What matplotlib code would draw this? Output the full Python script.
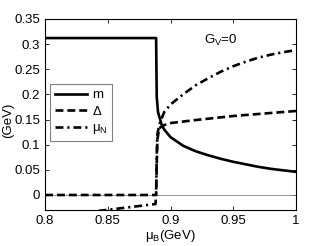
import numpy as np
import matplotlib.pyplot as plt
from matplotlib.ticker import FuncFormatter

plt.rcParams['font.family'] = ['Liberation Sans', 'DejaVu Sans']
plt.rcParams['mathtext.fontset'] = 'custom'
plt.rcParams['mathtext.rm'] = 'Liberation Sans'
plt.rcParams['mathtext.it'] = 'Liberation Sans'

# values
mu_m = [0.8, 0.8885, 0.889, 0.89, 0.893, 0.895, 0.9, 0.91, 0.92, 0.93, 0.94,
        0.95, 0.96, 0.97, 0.98, 0.99, 1.0]
m = [0.312, 0.312, 0.195, 0.165, 0.139, 0.13, 0.115, 0.098, 0.087, 0.079, 0.072,
     0.066, 0.061, 0.056, 0.052, 0.049, 0.046]

mu_d = [0.8, 0.8885, 0.889, 0.8895, 0.891, 0.895, 0.9, 0.92, 0.95, 0.98, 1.0]
delta = [0.0, 0.0, 0.06, 0.11, 0.133, 0.139, 0.143, 0.149, 0.157, 0.163, 0.167]

mu_n = [0.8, 0.848, 0.888, 0.8885, 0.889, 0.8895, 0.891, 0.895, 0.9, 0.91, 0.92,
        0.93, 0.94, 0.95, 0.96, 0.97, 0.98, 0.99, 1.0]
muN = [-0.044, -0.03, -0.018, 0.0, 0.08, 0.12, 0.14, 0.165, 0.18, 0.2, 0.218,
       0.232, 0.245, 0.256, 0.265, 0.273, 0.279, 0.284, 0.288]

fig = plt.figure(figsize=(3.27, 2.46), dpi=100)
ax = fig.add_axes([0.138, 0.146, 0.767, 0.777])

ax.axhline(0, color='gray', lw=0.6)
ax.plot(mu_m, m, 'k-', lw=1.9, label='m')
ax.plot(mu_d, delta, 'k--', lw=1.9, dashes=(3, 1.5), label=r'$\Delta$')
ax.plot(mu_n, muN, 'k-.', lw=1.9, dashes=(3, 1.5, 0.8, 1.5), label=r'$\mu_N$')

ax.set_xlim(0.8, 1.0)
ax.set_ylim(-0.03, 0.35)
ax.set_xticks(np.arange(0.8, 1.001, 0.05))
ax.set_yticks(np.arange(0, 0.351, 0.05))
fmt = FuncFormatter(lambda v, p: '%g' % round(v, 3))
ax.xaxis.set_major_formatter(fmt)
ax.yaxis.set_major_formatter(fmt)
ax.tick_params(direction='in', top=True, right=True, labelsize=9.5, length=3, width=0.6)
for s in ax.spines.values():
    s.set_linewidth(0.8)

ax.set_xlabel(r'$\mu_B$(GeV)', fontsize=9.5, labelpad=1)
ax.set_ylabel('(GeV)', fontsize=9.5)
ax.yaxis.set_label_coords(-0.125, 0.47)
ax.text(0.927, 0.3, r'G$_V$=0', fontsize=9.5)

leg = ax.legend(loc='center left', bbox_to_anchor=(0.01, 0.51), fontsize=9.5,
                handlelength=2.4, fancybox=False, framealpha=1, borderpad=0.35,
                labelspacing=0.3, handletextpad=0.4, borderaxespad=0.2)
leg.get_frame().set_edgecolor('gray')
leg.get_frame().set_linewidth(0.8)

fig.savefig('out.png', dpi=100)
